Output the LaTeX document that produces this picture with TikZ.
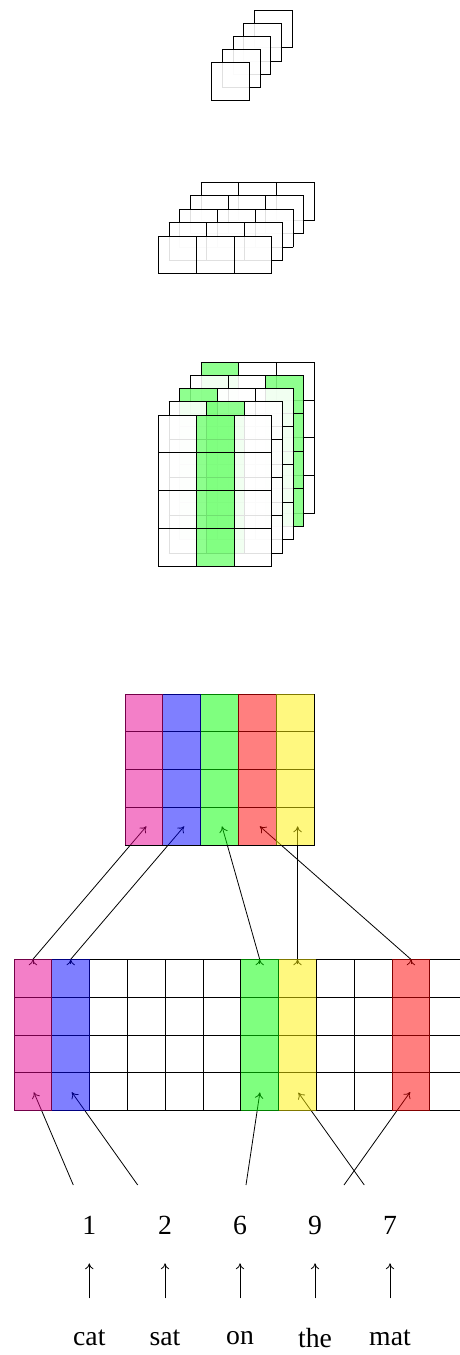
\documentclass[tikz,border=0pt]{standalone}
\usepackage{fontspec}
\setmainfont{Liberation Serif}
\usetikzlibrary{arrows.meta,calc}
\definecolor{cpink}{RGB}{231,0,145}
\begin{document}
\begin{tikzpicture}[x=1pt,y=-1pt,line width=0.8pt,
  wfill/.style={fill=white,fill opacity=0.88},
  gfill/.style={fill=green!50,fill opacity=0.88},
  hfill/.style={fill=#1,fill opacity=0.5},
  arr/.style={-{To[length=6pt,width=8.5pt]}},
  lbl/.style={font=\fontsize{27.7}{33}\selectfont},
  pics/gridblk/.style 2 args={code={
    \foreach \i in {0,...,#1} \draw[line cap=rect] (\i*37.8,0) -- (\i*37.8,#2*37.8);
    \foreach \j in {0,...,#2} \draw[line cap=rect] (0,\j*37.8) -- (#1*37.8,\j*37.8);
  }}]
\useasboundingbox (0,0) rectangle (460,1355);
\clip (0,0) rectangle (460,1355);
\def\s{37.8}

% ---------- stack 1 ----------
\foreach \k in {4,3,2,1,0} {
  \begin{scope}[shift={({211.8+10.6*\k},{62.8-13.2*\k})}]
    \fill[wfill] (0,0) rectangle (\s,\s);
    \pic {gridblk={1}{1}};
  \end{scope}
}

% ---------- stack 2 ----------
\foreach \k in {4,3,2,1,0} {
  \begin{scope}[shift={({158.3+10.65*\k},{236-13.4*\k})}]
    \fill[wfill] (0,0) rectangle (3*\s,\s);
    \pic {gridblk={3}{1}};
  \end{scope}
}

% ---------- stack 3 ----------
\foreach \k/\g in {4/0,3/2,2/0,1/1,0/1} {
  \begin{scope}[shift={({158.3+10.65*\k},{415-13.2*\k})}]
    \foreach \c in {0,1,2} {
      \ifnum\c=\g
        \fill[gfill] (\c*\s,0) rectangle ++(\s,4*\s);
      \else
        \fill[wfill] (\c*\s,0) rectangle ++(\s,4*\s);
      \fi
    }
    \pic {gridblk={3}{4}};
  \end{scope}
}

% ---------- top matrix ----------
\pic (tm) at (125,694) {gridblk={5}{4}};
\coordinate (m0) at (146.4,826.3);
\coordinate (m1) at (184.2,826.3);
\coordinate (m2) at (222.0,826.3);
\coordinate (m3) at (259.8,826.3);
\coordinate (m4) at (297.6,826.3);

% ---------- bottom grid ----------
\pic (bg) at (14,959.3) {gridblk={12}{4}};
\coordinate (t0) at (32.9,959.3);
\coordinate (t1) at (70.7,959.3);
\coordinate (t6) at (259.7,959.3);
\coordinate (t7) at (297.5,959.3);
\coordinate (t10) at (410.9,959.3);
\coordinate (g0) at (33.8,1092.2);
\coordinate (g1) at (71.8,1092.2);
\coordinate (g6) at (259.9,1092.4);
\coordinate (g7) at (298.3,1092.6);
\coordinate (g10) at (410.2,1092.0);

% lower line starts
\coordinate (s1) at (73.3,1185);
\coordinate (s2) at (137.7,1185);
\coordinate (s3) at (246,1185);
\coordinate (s4) at (364.3,1185);
\coordinate (s5) at (344,1185);

% connectors grid -> top matrix
\draw[arr] (t0) -- (m0);
\draw[arr] (t1) -- (m1);
\draw[arr] (t6) -- (m2);
\draw[arr] (t10) -- (m3);
\draw[arr] (t7) -- (m4);
\foreach \t in {t0,t1,t6,t7,t10} \draw[arr] ($(\t)+(0,5)$) -- (\t);

% connectors numbers -> grid
\draw[arr] (s1) -- (g0);
\draw[arr] (s2) -- (g1);
\draw[arr] (s3) -- (g6);
\draw[arr] (s4) -- (g7);
\draw[arr] (s5) -- (g10);

% translucent colour columns
\foreach \j/\col in {0/cpink,1/blue,2/green,3/red,4/yellow}
  \fill[hfill=\col] ({125+\j*\s},694) rectangle ++(\s,4*\s);
\foreach \j/\col in {0/cpink,1/blue,6/green,7/yellow,10/red}
  \fill[hfill=\col] ({14+\j*\s},959.3) rectangle ++(\s,4*\s);

% ---------- numbers and words ----------
\node[lbl] (n1) at (89.3,1225) {1};
\node[lbl] (n2) at (165,1225) {2};
\node[lbl] (n3) at (240,1225) {6};
\node[lbl] (n4) at (315,1225) {9};
\node[lbl] (n5) at (390,1225) {7};
\node[lbl] (w1) at (89.3,1338) {cat};
\node[lbl] (w2) at (165,1338) {sat};
\node[lbl] (w3) at (240,1338) {on};
\node[lbl] (w4) at (315,1338) {the};
\node[lbl] (w5) at (390,1338) {mat};
\coordinate (ab) at (0,1298.3);
\coordinate (at) at (0,1263.3);
\foreach \i in {1,...,5} \draw[arr] (w\i |- ab) -- (n\i |- at);
\end{tikzpicture}
\end{document}
